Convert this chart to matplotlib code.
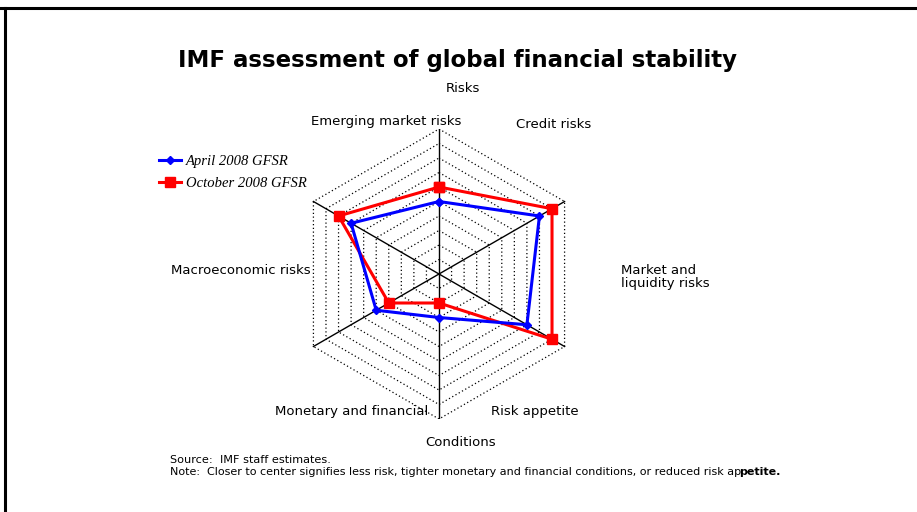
import numpy as np
import matplotlib
matplotlib.use("Agg")
import matplotlib.pyplot as plt
from matplotlib.lines import Line2D

# categories clockwise from the top spoke
categories = ["Emerging market risks", "Credit risks", "Market and\nliquidity risks",
              "Risk appetite", "Monetary and financial", "Macroeconomic risks"]
april_2008 = [5, 8, 7, 3, 5, 7]
october_2008 = [6, 9, 9, 2, 4, 8]
series_names = ["April 2008 GFSR", "October 2008 GFSR"]
n_rings = 10

W, H = 917, 512
fig = plt.figure(figsize=(W / 100, H / 100), dpi=100)

# frame lines (top and left only)
fig.add_artist(Line2D([0, 1], [1 - 8 / H, 1 - 8 / H], color="black", lw=2.2))
fig.add_artist(Line2D([5 / W, 5 / W], [0, 1 - 8 / H], color="black", lw=2.2))

# radar axes: center (439, 274) px, radius 145 px
cx, cy, R = 439, 274, 145
ax = fig.add_axes([(cx - R) / W, (H - cy - R) / H, 2 * R / W, 2 * R / H])
ax.set_xlim(-n_rings, n_rings)
ax.set_ylim(-n_rings, n_rings)
ax.axis("off")

n = len(categories)
theta = np.pi / 2 - np.arange(n) * 2 * np.pi / n

# dotted rings
for r in range(1, n_rings + 1):
    xs = np.append(r * np.cos(theta), r * np.cos(theta[0]))
    ys = np.append(r * np.sin(theta), r * np.sin(theta[0]))
    ax.plot(xs, ys, color="black", lw=0.9, ls=(0, (1, 2)), zorder=1)

# spokes
for t in theta:
    ax.plot([0, n_rings * np.cos(t)], [0, n_rings * np.sin(t)], color="black", lw=1, zorder=2)


def closed(vals):
    v = np.array(vals + vals[:1], dtype=float)
    t = np.append(theta, theta[0])
    return v * np.cos(t), v * np.sin(t)


bx, by = closed(april_2008)
rx, ry = closed(october_2008)
ax.plot(rx, ry, color="#ff0000", lw=2.2, marker="s", ms=7, zorder=3)
ax.plot(bx, by, color="#0000ff", lw=2.2, marker="D", ms=4.5, zorder=4)

# category labels placed as in the original slide (pixel centres)
label_pos = [(386, 122, "center"), (554, 125, "center"), (621, 277, "left"),
             (535, 412, "center"), (352, 412, "center"), (241, 270, "center")]
for name, (px, py, ha) in zip(categories, label_pos):
    fig.text(px / W, 1 - py / H, name, ha=ha, va="center",
             fontsize=9.5, family="DejaVu Sans", linespacing=1.0)
fig.text(463 / W, 1 - 89 / H, "Risks", ha="center", va="center", fontsize=9.5)
fig.text(461 / W, 1 - 442 / H, "Conditions", ha="center", va="center", fontsize=9.5)

# title
fig.text(458 / W, 1 - 60 / H, "IMF assessment of global financial stability",
         ha="center", va="center", fontsize=16.5, fontweight="bold", family="DejaVu Sans")

# legend
handles = [Line2D([], [], color="#0000ff", lw=2.2, marker="D", ms=4.5),
           Line2D([], [], color="#ff0000", lw=2.2, marker="s", ms=7)]
fig.legend(handles, series_names, loc="upper left", bbox_to_anchor=(152 / W, 1 - 148 / H),
           frameon=False, handlelength=1.5, handletextpad=0.3, labelspacing=0.55,
           borderpad=0, prop={"family": "Liberation Serif", "style": "italic", "size": 10.5})

# source and note
fig.text(170 / W, 1 - 460 / H, "Source:  IMF staff estimates.", ha="left", va="center", fontsize=8.1)
note = fig.text(170 / W, 1 - 472 / H,
                "Note:  Closer to center signifies less risk, tighter monetary and financial conditions, or reduced risk ap",
                ha="left", va="center", fontsize=8.0)
ax.annotate("petite.", xy=(1, 0), xycoords=note, xytext=(-1.5, 0), textcoords="offset points",
            ha="left", va="bottom", fontsize=8.0, fontweight="bold")

fig.savefig("out.png", dpi=100)
